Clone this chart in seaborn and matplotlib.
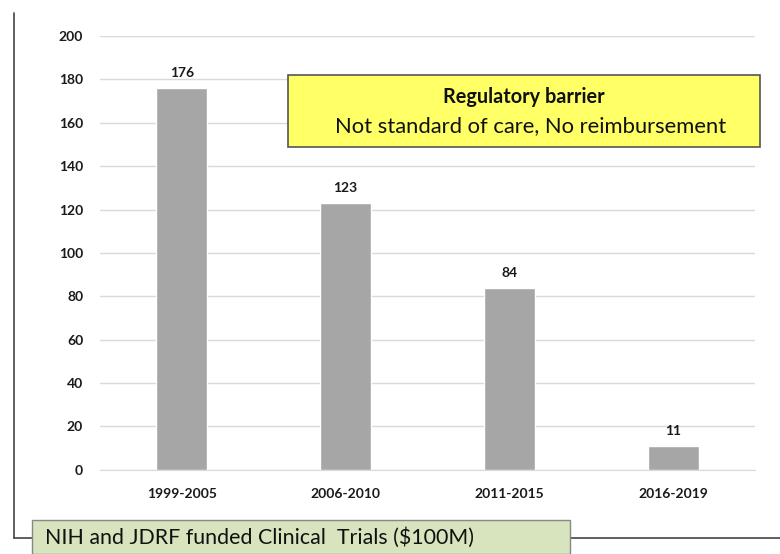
import matplotlib.pyplot as plt
import matplotlib.patches as mpatches
from matplotlib.lines import Line2D
import seaborn as sns
import pandas as pd

# Data
periods = ["1999-2005", "2006-2010", "2011-2015", "2016-2019"]
trials = [176, 123, 84, 11]
y_ticks = [0, 20, 40, 60, 80, 100, 120, 140, 160, 180, 200]

box_title = "Regulatory barrier"
box_text = "Not standard of care, No reimbursement"
footer_text = "NIH and JDRF funded Clinical  Trials ($100M)"

sns.set_style("white")
plt.rcParams['font.family'] = ['Lato', 'DejaVu Sans']

df = pd.DataFrame({"period": periods, "trials": trials})

fig = plt.figure(figsize=(7.8, 5.54), dpi=100)
ax = fig.add_axes([0.128, 0.152, 0.84, 0.783])

sns.barplot(data=df, x="period", y="trials", color="#A6A6A6", width=0.31,
            saturation=1, ax=ax, zorder=3)

ax.set_ylim(0, 200)
ax.set_xlim(-0.5, 3.5)
ax.set_yticks(y_ticks)
ax.yaxis.grid(True, color="#D9D9D9", linewidth=1, zorder=0)
ax.set_axisbelow(True)
for side in ["top", "right", "left"]:
    ax.spines[side].set_visible(False)
ax.spines["bottom"].set_color("#D9D9D9")
ax.tick_params(axis="y", length=0, pad=12, labelsize=10)
ax.tick_params(axis="x", length=0, pad=13, labelsize=10)
for lbl in ax.get_xticklabels() + ax.get_yticklabels():
    lbl.set_fontweight("bold")
    lbl.set_color("#1a1a1a")
ax.set_xlabel("")
ax.set_ylabel("")

# value labels above bars
for i, v in enumerate(trials):
    ax.text(i, v + 4, str(v), ha="center", va="bottom", fontsize=10,
            fontweight="bold", color="#1a1a1a")

# yellow call-out box
fig.patches.append(mpatches.Rectangle((288 / 780, 1 - 147 / 554), 472 / 780, 72 / 554,
                                      transform=fig.transFigure, facecolor="#FFFF66",
                                      edgecolor="#555555", linewidth=1.2, zorder=5))
fig.text(524 / 780, 1 - 97 / 554, box_title, ha="center", va="center",
         fontsize=14.3, fontweight="bold", color="#111111", zorder=6)
fig.text(531 / 780, 1 - 126 / 554, box_text, ha="center", va="center",
         fontsize=15.8, color="#111111", zorder=6)

# outer frame lines
fig.add_artist(Line2D([14 / 780, 14 / 780], [1 - 13 / 554, 1 - 538 / 554],
                      color="#444444", linewidth=1.2))
fig.add_artist(Line2D([14 / 780, 1.0], [1 - 538 / 554, 1 - 538 / 554],
                      color="#444444", linewidth=1.2))

# green footer box
fig.patches.append(mpatches.Rectangle((32 / 780, 0), 538 / 780, 34 / 554,
                                      transform=fig.transFigure, facecolor="#D7E4BD",
                                      edgecolor="#888888", linewidth=1.0, zorder=5))
fig.text(45 / 780, 1 - 538 / 554, footer_text, ha="left", va="center",
         fontsize=15.4, color="#111111", zorder=6)

fig.savefig("out.png", dpi=100)
